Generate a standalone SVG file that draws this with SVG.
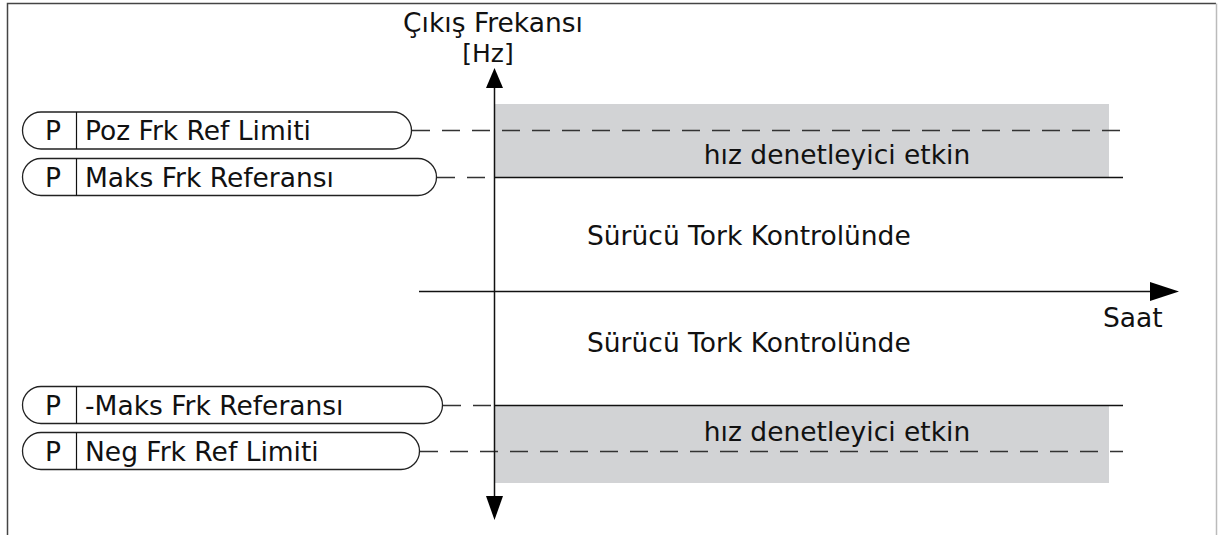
<svg xmlns="http://www.w3.org/2000/svg" width="1219" height="535" viewBox="0 0 1219 535">
<style>
.lbl{font-family:"DejaVu Sans",Verdana,sans-serif;font-size:26.5px;fill:#111}
.pill{fill:#fff;stroke:#222;stroke-width:1.3}
.ptxt{font-family:"DejaVu Sans",Verdana,sans-serif;font-size:26.5px;fill:#111}
.dash{stroke:#333;stroke-width:1.4;stroke-dasharray:18 12;fill:none}
.solid{stroke:#111;stroke-width:1.5;fill:none}
.band{fill:#d2d3d5}
</style>
<rect width="1219" height="535" fill="#fff"/>
<path d="M7.5,535 V3.5 H1216" fill="none" stroke="#444" stroke-width="1.5"/>
<path d="M1216.5,3.5 V535" fill="none" stroke="#bbb" stroke-width="1.5"/>

<rect class="band" x="495" y="104" width="614" height="73"/>
<rect class="band" x="495" y="405" width="614" height="78"/>

<g id="connectors">
<path class="dash" d="M412,130.5 H1123"/>
<path class="dash" d="M437,177.5 H495"/>
<path class="solid" d="M495,177.5 H1123"/>
<path class="dash" d="M443,405.5 H495"/>
<path class="solid" d="M495,405.5 H1123"/>
<path class="dash" d="M420,451.5 H1123"/>
<path class="solid" d="M494.5,88 V496"/>
<path d="M494.5,68 L486,88 L503,88 Z" fill="#000"/>
<path d="M494.5,520 L486,496 L503,496 Z" fill="#000"/>
<path class="solid" d="M419,291.5 H1150"/>
<path d="M1179,291.5 L1150,282 L1150,301 Z" fill="#000"/>
</g>

<g id="axis-labels">
<text class="lbl" x="493" y="32" text-anchor="middle">Çıkış Frekansı</text>
<text class="lbl" x="488" y="62" text-anchor="middle" style="font-size:25px">[Hz]</text>
<text class="lbl" x="1103" y="327">Saat</text>
</g>

<g id="region-labels">
<text class="lbl" x="837" y="164" text-anchor="middle">hız denetleyici etkin</text>
<text class="lbl" x="587" y="245">Sürücü Tork Kontrolünde</text>
<text class="lbl" x="587" y="352">Sürücü Tork Kontrolünde</text>
<text class="lbl" x="837" y="441" text-anchor="middle">hız denetleyici etkin</text>
</g>

<g id="node-poz">
<rect class="pill" x="22.5" y="112" width="389" height="37" rx="18.5"/>
<path class="solid" d="M76.5,112 V149" style="stroke-width:1.2"/>
<text class="ptxt" x="53" y="140" text-anchor="middle">P</text>
<text class="ptxt" x="85" y="140">Poz Frk Ref Limiti</text>
</g>
<g id="node-maks">
<rect class="pill" x="22.5" y="158.5" width="414" height="37" rx="18.5"/>
<path class="solid" d="M76.5,158.5 V195.5" style="stroke-width:1.2"/>
<text class="ptxt" x="53" y="186.5" text-anchor="middle">P</text>
<text class="ptxt" x="85" y="186.5">Maks Frk Referansı</text>
</g>
<g id="node-negmaks">
<rect class="pill" x="22.5" y="386.5" width="420" height="37" rx="18.5"/>
<path class="solid" d="M76.5,386.5 V423.5" style="stroke-width:1.2"/>
<text class="ptxt" x="53" y="414.5" text-anchor="middle">P</text>
<text class="ptxt" x="85" y="414.5">-Maks Frk Referansı</text>
</g>
<g id="node-neg">
<rect class="pill" x="22.5" y="432.5" width="397" height="37" rx="18.5"/>
<path class="solid" d="M76.5,432.5 V469.5" style="stroke-width:1.2"/>
<text class="ptxt" x="53" y="460.5" text-anchor="middle">P</text>
<text class="ptxt" x="85" y="460.5">Neg Frk Ref Limiti</text>
</g>
</svg>
